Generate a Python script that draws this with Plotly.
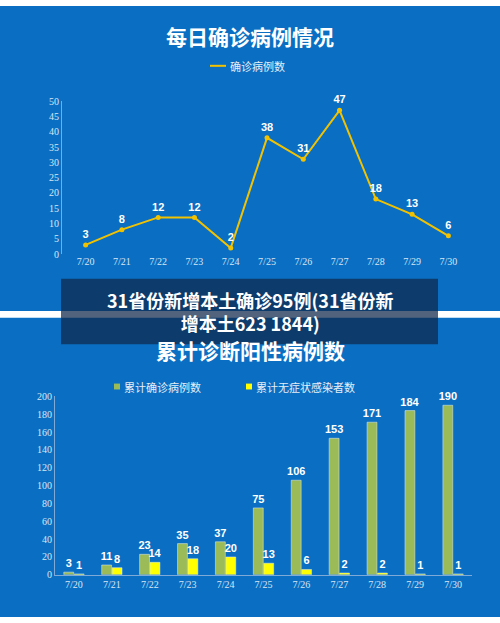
import plotly.graph_objects as go

dates = ["7/20", "7/21", "7/22", "7/23", "7/24", "7/25", "7/26", "7/27", "7/28", "7/29", "7/30"]
daily = [3, 8, 12, 12, 2, 38, 31, 47, 18, 13, 6]
cum_confirmed = [3, 11, 23, 35, 37, 75, 106, 153, 171, 184, 190]
cum_asym = [1, 8, 14, 18, 20, 13, 6, 2, 2, 1, 1]

H = 623.0
def py(p):
    return 1 - p / H

BLUE = "#0A6FC2"
LBL = dict(color="white", size=11, family="Liberation Sans Narrow, Arial Narrow, Arial")
fig = go.Figure()

fig.add_trace(go.Scatter(
    x=dates, y=daily, mode="lines+markers+text", name="确诊病例数",
    line=dict(color="#F2C200", width=2), marker=dict(size=5, color="#F2C200"),
    text=["<b>%d</b>" % v for v in daily], textposition="top center", textfont=LBL,
    xaxis="x", yaxis="y", showlegend=False, cliponaxis=False,
))
fig.add_trace(go.Bar(
    x=dates, y=cum_confirmed, name="累计确诊病例数", marker_color="#9BBB59",
    text=["<b>%d</b>" % v for v in cum_confirmed], textposition="outside", textfont=LBL,
    constraintext="none",
    xaxis="x2", yaxis="y2", showlegend=False, cliponaxis=False,
))
fig.add_trace(go.Bar(
    x=dates, y=cum_asym, name="累计无症状感染者数", marker_color="#FFFF00",
    text=["<b>%d</b>" % v for v in cum_asym], textposition="outside", textfont=LBL,
    constraintext="none",
    xaxis="x2", yaxis="y2", showlegend=False, cliponaxis=False,
))

ax = dict(showgrid=False, linecolor="#7FA9D6", tickfont=dict(color="#D8E6F5", size=10, family="Liberation Serif"),
          ticks="", zeroline=False)
note = dict(xref="paper", yref="paper", showarrow=False, yanchor="middle")
fig.update_layout(
    width=500, height=623, margin=dict(l=0, r=0, t=0, b=0),
    paper_bgcolor="white", plot_bgcolor=BLUE,
    barmode="group", bargap=0.45, bargroupgap=0.05,
    xaxis=dict(ax, domain=[62 / 500, 472 / 500], showline=False),
    yaxis=dict(ax, domain=[py(253), py(97)], range=[0, 50], dtick=5, showline=True),
    xaxis2=dict(ax, domain=[55 / 500, 472 / 500], anchor="y2", showline=True),
    yaxis2=dict(ax, domain=[py(580), py(398)], range=[0, 200], dtick=20, showline=True, anchor="x2"),
    shapes=[
        dict(type="rect", xref="paper", yref="paper", x0=0, x1=1, y0=py(311), y1=1, fillcolor=BLUE, line_width=0, layer="below"),
        dict(type="rect", xref="paper", yref="paper", x0=0, x1=1, y0=0, y1=py(318), fillcolor=BLUE, line_width=0, layer="below"),
        dict(type="line", xref="paper", yref="paper", x0=210 / 500, x1=226 / 500, y0=py(61), y1=py(61), line=dict(color="#F2C200", width=2)),
        dict(type="rect", xref="paper", yref="paper", x0=114 / 500, x1=120 / 500, y0=py(391), y1=py(385), fillcolor="#9BBB59", line_width=0),
        dict(type="rect", xref="paper", yref="paper", x0=246 / 500, x1=252 / 500, y0=py(391), y1=py(385), fillcolor="#FFFF00", line_width=0),
        dict(type="rect", xref="paper", yref="paper", x0=61 / 500, x1=438 / 500, y0=py(345), y1=py(278), fillcolor="rgba(15,40,75,0.72)", line_width=0),
    ],
    annotations=[
        dict(note, text="<b>每日确诊病例情况</b>", x=0.5, y=py(31),
             font=dict(color="white", size=21, family="Noto Sans CJK SC")),
        dict(note, text="确诊病例数", x=228 / 500, y=py(61), xanchor="left",
             font=dict(color="#E6EEF7", size=11, family="Noto Sans CJK SC")),
        dict(note, text="<b>累计诊断阳性病例数</b>", x=0.5, y=py(351),
             font=dict(color="white", size=21, family="Noto Sans CJK SC")),
        dict(note, text="累计确诊病例数", x=122 / 500, y=py(388), xanchor="left",
             font=dict(color="#E6EEF7", size=11, family="Noto Sans CJK SC")),
        dict(note, text="累计无症状感染者数", x=254 / 500, y=py(388), xanchor="left",
             font=dict(color="#E6EEF7", size=11, family="Noto Sans CJK SC")),
        dict(note, text="<b>31省份新增本土确诊95例(31省份新</b><br><b>增本土623 1844)</b>", x=0.5, y=py(311),
             align="center", font=dict(color="white", size=18, family="Noto Sans CJK SC")),
    ],
)
fig.write_html("out.html", config={"displayModeBar": False})

# drop the default page margin so the figure fills the window
with open("out.html", encoding="utf-8") as f:
    page = f.read()
page = page.replace("<head>", "<head><style>html,body{margin:0;padding:0;overflow:hidden}</style>", 1)
with open("out.html", "w", encoding="utf-8") as f:
    f.write(page)
